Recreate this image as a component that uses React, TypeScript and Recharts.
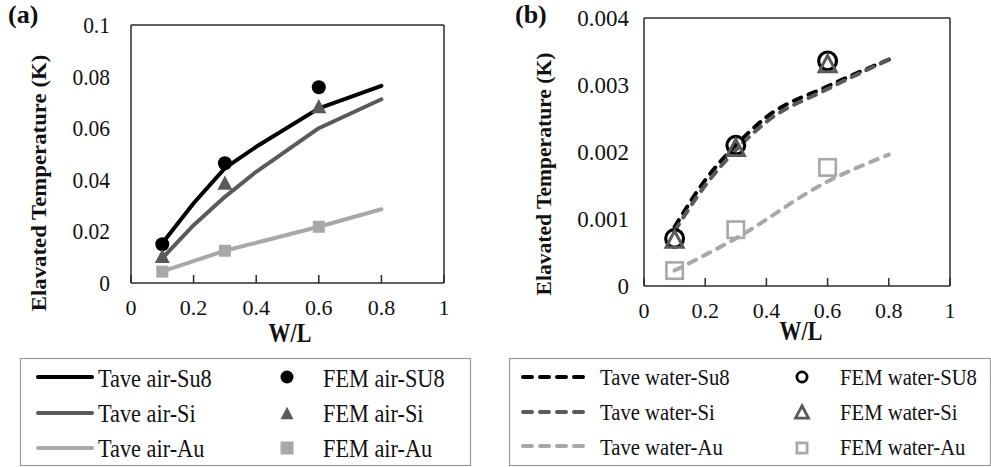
import React from 'react';
import { ComposedChart, Line, Scatter, XAxis, YAxis } from 'recharts';

const FONT = '"Liberation Serif", "Times New Roman", serif';

// axis ticks
const xTicks = [0, 0.2, 0.4, 0.6, 0.8, 1];
const airYTicks = [0, 0.02, 0.04, 0.06, 0.08, 0.1];
const waterYTicks = [0, 0.001, 0.002, 0.003, 0.004];

// (a) air: averaged temperature curves
const taveAirSu8 = [
  { x: 0.1, y: 0.0154 },
  { x: 0.2, y: 0.0309 },
  { x: 0.3, y: 0.0445 },
  { x: 0.4, y: 0.0528 },
  { x: 0.6, y: 0.0677 },
  { x: 0.8, y: 0.0764 },
];
const taveAirSi = [
  { x: 0.1, y: 0.0096 },
  { x: 0.2, y: 0.0224 },
  { x: 0.3, y: 0.0334 },
  { x: 0.4, y: 0.0431 },
  { x: 0.6, y: 0.06 },
  { x: 0.8, y: 0.0712 },
];
const taveAirAu = [
  { x: 0.1, y: 0.0045 },
  { x: 0.3, y: 0.0125 },
  { x: 0.6, y: 0.0218 },
  { x: 0.8, y: 0.0286 },
];

// (a) air: FEM results
const femAirSu8 = [
  { x: 0.1, y: 0.015 },
  { x: 0.3, y: 0.0464 },
  { x: 0.6, y: 0.0759 },
];
const femAirSi = [
  { x: 0.1, y: 0.0105 },
  { x: 0.3, y: 0.0389 },
  { x: 0.6, y: 0.0686 },
];
const femAirAu = [
  { x: 0.1, y: 0.0044 },
  { x: 0.3, y: 0.0125 },
  { x: 0.6, y: 0.0218 },
];

// (b) water: averaged temperature curves
const taveWaterSu8 = [
  { x: 0.1, y: 0.00088 },
  { x: 0.2, y: 0.00158 },
  { x: 0.3, y: 0.0021 },
  { x: 0.4, y: 0.00252 },
  { x: 0.6, y: 0.00298 },
  { x: 0.8, y: 0.00338 },
];
const taveWaterSi = [
  { x: 0.1, y: 0.00082 },
  { x: 0.2, y: 0.0015 },
  { x: 0.3, y: 0.00203 },
  { x: 0.4, y: 0.00245 },
  { x: 0.6, y: 0.00294 },
  { x: 0.8, y: 0.00338 },
];
const taveWaterAu = [
  { x: 0.1, y: 0.00023 },
  { x: 0.3, y: 0.00071 },
  { x: 0.6, y: 0.00156 },
  { x: 0.8, y: 0.00196 },
];

// (b) water: FEM results
const femWaterSu8 = [
  { x: 0.1, y: 0.00071 },
  { x: 0.3, y: 0.0021 },
  { x: 0.6, y: 0.00336 },
];
const femWaterSi = [
  { x: 0.1, y: 0.0007 },
  { x: 0.3, y: 0.00207 },
  { x: 0.6, y: 0.00332 },
];
const femWaterAu = [
  { x: 0.1, y: 0.00023 },
  { x: 0.3, y: 0.00084 },
  { x: 0.6, y: 0.00177 },
];

const BLACK = '#000000';
const DARK = '#5a5a5a';
const LIGHT = '#a8a8a8';
const FRAME = '#2b2b2b';

type Kind = 'circle' | 'triangle' | 'square';

const Marker = ({ cx, cy, kind, size, color, open, sw = 3 }: any) => {
  const h = size / 2;
  const paint = open
    ? { fill: 'none', stroke: color, strokeWidth: sw, strokeLinejoin: 'miter' as const }
    : { fill: color };
  if (kind === 'circle') return <circle cx={cx} cy={cy} r={open ? h - sw / 2 : h} {...paint} />;
  if (kind === 'triangle') {
    const hh = h * 0.95;
    return (
      <polygon
        points={`${cx},${cy - hh} ${cx - h},${cy + hh} ${cx + h},${cy + hh}`}
        {...paint}
      />
    );
  }
  const s = open ? size - sw : size;
  return <rect x={cx - s / 2} y={cy - s / 2} width={s} height={s} {...paint} />;
};

const markerShape = (kind: Kind, size: number, color: string, open = false, sw = 3) => (p: any) =>
  <Marker cx={p.cx} cy={p.cy} kind={kind} size={size} color={color} open={open} sw={sw} />;

// tick label with a slight vertical stretch, like the printed figure
const stretchTick = (anchor: 'end' | 'middle', size: number, sy: number, dy: number) => (p: any) => (
  <g transform={`translate(${p.x},${p.y}) scale(1,${sy})`}>
    <text x={0} y={0} dy={dy} textAnchor={anchor} fontFamily={FONT} fontSize={size} fill="#111">
      {p.payload.value}
    </text>
  </g>
);

const Txt = ({ x, y, size, sx = 1, sy = 1, bold = false, anchor = 'start', rotate = 0, children }: any) => (
  <g transform={`translate(${x},${y}) rotate(${rotate}) scale(${sx},${sy})`}>
    <text x={0} y={0} fontFamily={FONT} fontSize={size} fontWeight={bold ? 700 : 400} textAnchor={anchor} fill="#111">
      {children}
    </text>
  </g>
);

const axisLine = { stroke: FRAME, strokeWidth: 1.5 };

const PanelAxes = ({ yDomain, yTicks, yLabelSize, yLabelSy, yMargin, xLabelSize }: any) => [
  <XAxis
    key="xb"
    type="number"
    dataKey="x"
    domain={[0, 1]}
    ticks={xTicks}
    interval={0}
    allowDataOverflow
    height={1}
    axisLine={axisLine}
    tickLine={axisLine}
    tickSize={-8}
    tickMargin={18}
    tick={stretchTick('middle', xLabelSize, 1, 22)}
  />,
  <XAxis
    key="xt"
    xAxisId="top"
    orientation="top"
    type="number"
    dataKey="x"
    domain={[0, 1]}
    ticks={xTicks}
    interval={0}
    allowDataOverflow
    height={1}
    axisLine={axisLine}
    tickLine={axisLine}
    tickSize={-8}
    tick={false}
  />,
  <YAxis
    key="yl"
    type="number"
    dataKey="y"
    domain={yDomain}
    ticks={yTicks}
    interval={0}
    allowDataOverflow
    width={1}
    axisLine={axisLine}
    tickLine={false}
    tickSize={0}
    tickMargin={yMargin}
    tick={stretchTick('end', yLabelSize, yLabelSy, yLabelSize * 0.338)}
  />,
  <YAxis
    key="yr"
    yAxisId="right"
    orientation="right"
    type="number"
    domain={yDomain}
    ticks={yTicks}
    interval={0}
    allowDataOverflow
    width={1}
    axisLine={axisLine}
    tickLine={axisLine}
    tickSize={-8}
    tick={false}
  />,
];

const AirChart = () => (
  <ComposedChart width={470} height={350} margin={{ top: 24, right: 25, bottom: 66, left: 130 }}>
    {PanelAxes({ yDomain: [0, 0.1], yTicks: airYTicks, yLabelSize: 21.5, yLabelSy: 1.1, yMargin: 21, xLabelSize: 22 })}
    <Line data={taveAirAu} dataKey="y" type="linear" stroke={LIGHT} strokeWidth={4} strokeLinecap="round" strokeLinejoin="round" dot={false} isAnimationActive={false} />
    <Line data={taveAirSi} dataKey="y" type="linear" stroke={DARK} strokeWidth={4} strokeLinecap="round" strokeLinejoin="round" dot={false} isAnimationActive={false} />
    <Line data={taveAirSu8} dataKey="y" type="linear" stroke={BLACK} strokeWidth={4} strokeLinecap="round" strokeLinejoin="round" dot={false} isAnimationActive={false} />
    <Scatter data={femAirSu8} shape={markerShape('circle', 14, BLACK)} isAnimationActive={false} />
    <Scatter data={femAirSi} shape={markerShape('triangle', 15, DARK)} isAnimationActive={false} />
    <Scatter data={femAirAu} shape={markerShape('square', 12, LIGHT)} isAnimationActive={false} />
  </ComposedChart>
);

const WaterChart = () => (
  <ComposedChart width={511} height={350} margin={{ top: 17, right: 40, bottom: 63, left: 163 }}>
    {PanelAxes({ yDomain: [0, 0.004], yTicks: waterYTicks, yLabelSize: 23, yLabelSy: 1.0, yMargin: 15, xLabelSize: 22 })}
    <Line data={taveWaterAu} dataKey="y" type="monotone" stroke={LIGHT} strokeWidth={4} strokeDasharray="8 8" strokeLinecap="round" dot={false} isAnimationActive={false} />
    <Line data={taveWaterSu8} dataKey="y" type="monotone" stroke={BLACK} strokeWidth={4} strokeDasharray="8 8" strokeLinecap="round" dot={false} isAnimationActive={false} />
    <Line data={taveWaterSi} dataKey="y" type="monotone" stroke={DARK} strokeWidth={4} strokeDasharray="8 8" strokeLinecap="round" dot={false} isAnimationActive={false} />
    <Scatter data={femWaterSu8} shape={markerShape('circle', 21, BLACK, true, 3.2)} isAnimationActive={false} />
    <Scatter data={femWaterSi} shape={markerShape('triangle', 17, DARK, true, 3)} isAnimationActive={false} />
    <Scatter data={femWaterAu} shape={markerShape('square', 19, LIGHT, true, 2.6)} isAnimationActive={false} />
  </ComposedChart>
);

const airLines = [
  { name: 'Tave air-Su8', color: BLACK },
  { name: 'Tave air-Si', color: DARK },
  { name: 'Tave air-Au', color: LIGHT },
];
const airMarks = [
  { name: 'FEM air-SU8', color: BLACK, kind: 'circle' },
  { name: 'FEM air-Si', color: DARK, kind: 'triangle' },
  { name: 'FEM air-Au', color: LIGHT, kind: 'square' },
];
const waterLines = [
  { name: 'Tave water-Su8', color: BLACK },
  { name: 'Tave water-Si', color: DARK },
  { name: 'Tave water-Au', color: LIGHT },
];
const waterMarks = [
  { name: 'FEM water-SU8', color: BLACK, kind: 'circle' },
  { name: 'FEM water-Si', color: DARK, kind: 'triangle' },
  { name: 'FEM water-Au', color: LIGHT, kind: 'square' },
];

const Overlay = () => {
  const airRows = [377, 413, 448];
  const airBase = [387, 422, 457];
  const waterRows = [377, 412, 446];
  const waterBase = [385, 420, 455];
  return (
    <svg width={991} height={467} style={{ position: 'absolute', left: 0, top: 0 }}>
      <Txt x={8} y={23} size={26} bold>(a)</Txt>
      <Txt x={515} y={23} size={26} bold>(b)</Txt>

      <Txt x={46} y={183} size={20} bold anchor="middle" rotate={-90} sx={1.14}>Elavated Temperature (K)</Txt>
      <Txt x={551} y={174} size={20} bold anchor="middle" rotate={-90} sx={1.08}>Elavated Temperature (K)</Txt>

      <Txt x={290} y={342} size={22} bold anchor="middle" sy={1.22}>W/L</Txt>
      <Txt x={801} y={340} size={22} bold anchor="middle" sy={1.22}>W/L</Txt>

      <rect x={20.5} y={358.5} width={450} height={107} fill="none" stroke="#9a9a9a" strokeWidth={1.2} />
      {airLines.map((s, i) => (
        <g key={s.name}>
          <line x1={38} x2={92} y1={airRows[i]} y2={airRows[i]} stroke={s.color} strokeWidth={4} strokeLinecap="round" />
          <Txt x={98} y={airBase[i]} size={22.3} sy={1.1}>{s.name}</Txt>
        </g>
      ))}
      {airMarks.map((s, i) => (
        <g key={s.name}>
          <Marker cx={287} cy={airRows[i]} kind={s.kind} size={13} color={s.color} />
          <Txt x={323} y={airBase[i]} size={22.3} sy={1.1}>{s.name}</Txt>
        </g>
      ))}

      <rect x={509.5} y={358.5} width={481} height={107} fill="none" stroke="#9a9a9a" strokeWidth={1.2} />
      {waterLines.map((s, i) => (
        <g key={s.name}>
          <line x1={523} x2={586} y1={waterRows[i]} y2={waterRows[i]} stroke={s.color} strokeWidth={4} strokeDasharray="9 8" strokeLinecap="round" />
          <Txt x={600} y={waterBase[i]} size={20.7} sy={1.12}>{s.name}</Txt>
        </g>
      ))}
      {waterMarks.map((s, i) => (
        <g key={s.name}>
          <Marker cx={802} cy={waterRows[i] + (i === 2 ? 2 : 0)} kind={s.kind} size={13} color={s.color} open sw={2.8} />
          <Txt x={840} y={waterBase[i]} size={20.7} sy={1.12}>{s.name}</Txt>
        </g>
      ))}
    </svg>
  );
};

export default function App() {
  return (
    <div style={{ position: 'absolute', left: 0, top: 0, width: 991, height: 467, background: '#fff', overflow: 'hidden' }}>
      <Overlay />
      <div style={{ position: 'absolute', left: 0, top: 0 }}>
        <AirChart />
      </div>
      <div style={{ position: 'absolute', left: 480, top: 0 }}>
        <WaterChart />
      </div>
    </div>
  );
}
